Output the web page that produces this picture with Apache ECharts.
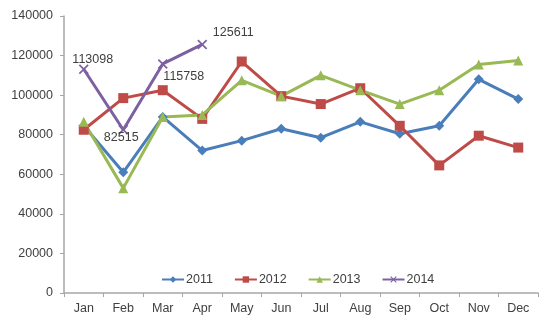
<!DOCTYPE html>
<html><head><meta charset="utf-8">
<script src="https://cdn.jsdelivr.net/npm/echarts@6/dist/echarts.min.js"></script>
<style>html,body{margin:0;padding:0;background:#fff}#c{width:558px;height:323px}</style>
</head><body><div id="c"></div>
<script>
var months = ['Jan','Feb','Mar','Apr','May','Jun','Jul','Aug','Sep','Oct','Nov','Dec'];
var s2011 = [84500, 61000, 89000, 72000, 77000, 83000, 78500, 86500, 80500, 84500, 108000, 98000];
var s2012 = [82500, 98500, 102500, 88000, 117000, 99500, 95500, 103500, 84500, 64500, 79500, 73500];
var s2013 = [86500, 53000, 89000, 90000, 107500, 99500, 110000, 102500, 95500, 102500, 115500, 117500];
var s2014 = [113098, 82515, 115758, 125611];
var seriesNames = ['2011','2012','2013','2014'];
var yTicks = [0, 20000, 40000, 60000, 80000, 100000, 120000, 140000];

var textColor = '#404040';
var axisColor = '#a6a6a6';
var xPath = 'path://M0,1.2L1.2,0L5,3.8L8.8,0L10,1.2L6.2,5L10,8.8L8.8,10L5,6.2L1.2,10L0,8.8L3.8,5Z';
var labelOffsets = [[9,7],[-2,-9],[21,-4],[31,5]];
var labelPos = ['top','bottom','bottom','top'];
var d2014 = s2014.map(function(v,i){
  return {value:v, label:{show:true, position:labelPos[i], offset:labelOffsets[i], formatter:String(v), color:textColor, fontSize:12.5, fontFamily:'Liberation Sans'}};
});
function mk(name, data, color, symbol, size){
  return {name:name, type:'line', data:data, symbol:symbol, symbolSize:size, showSymbol:true,
    lineStyle:{color:color, width:3}, itemStyle:{color:color}, emphasis:{disabled:true}, animation:false};
}
var chart = echarts.init(document.getElementById('c'), null, {renderer:'canvas'});
chart.setOption({
  animation:false,
  textStyle:{fontFamily:'Liberation Sans'},
  grid:{left:64, right:20, top:16, bottom:30, containLabel:false},
  legend:{
    data:seriesNames, bottom:32, left:156, itemWidth:22, itemHeight:8, itemGap:21,
    textStyle:{color:textColor, fontSize:12.5, fontFamily:'Liberation Sans', padding:[0,0,0,-3]}
  },
  xAxis:{
    type:'category', data:months, boundaryGap:true,
    axisLine:{lineStyle:{color:axisColor, width:1.5}},
    axisTick:{show:true, length:4, lineStyle:{color:axisColor}, alignWithLabel:false},
    axisLabel:{color:textColor, fontSize:12.5, margin:9, fontFamily:'Liberation Sans'},
    splitLine:{show:false}
  },
  yAxis:{
    type:'value', min:yTicks[0], max:yTicks[yTicks.length-1], interval:20000,
    axisLine:{show:true, lineStyle:{color:axisColor, width:1.5}},
    axisTick:{show:true, length:4, lineStyle:{color:axisColor}},
    axisLabel:{color:textColor, fontSize:12.5, margin:11, fontFamily:'Liberation Sans', formatter:function(v){return String(v);}},
    splitLine:{show:false}
  },
  series:[
    mk('2011', s2011, '#4a7ebb', 'diamond', 10),
    mk('2012', s2012, '#be4b48', 'rect', 10),
    mk('2013', s2013, '#98b954', 'triangle', 10),
    mk('2014', d2014, '#7d60a0', xPath, 10)
  ]
});
</script></body></html>
